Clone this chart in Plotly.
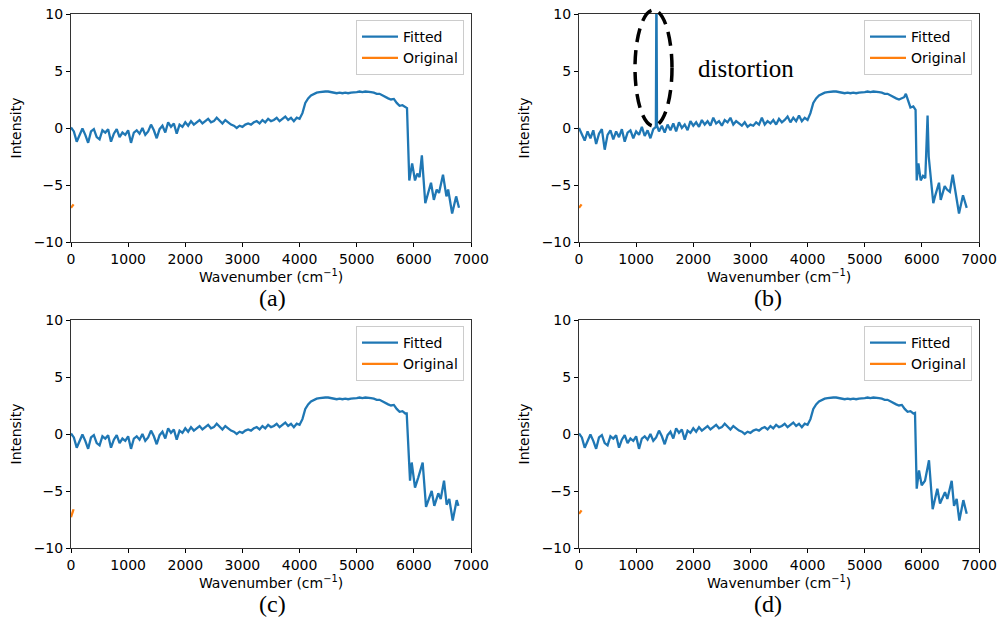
import plotly.graph_objects as go

# ---------------- data ----------------
# shared low/plateau region for panels (a), (c), (d)
base_x = [0, 50, 100, 150, 200, 250, 300, 350, 400, 450, 500, 550, 600, 650, 700, 750, 800, 850, 900, 950,
          1000, 1050, 1100, 1150, 1200, 1250, 1300, 1350, 1400, 1450, 1500, 1550, 1600, 1650, 1700, 1750, 1800, 1850, 1900, 1950,
          2000, 2050, 2100, 2150, 2200, 2250, 2300, 2350, 2400, 2450, 2500, 2550, 2600, 2650, 2700, 2750, 2800, 2850, 2900, 2950,
          3000, 3050, 3100, 3150, 3200, 3250, 3300, 3350, 3400, 3450, 3500, 3550, 3600, 3650, 3700, 3750, 3800, 3850, 3900, 3950,
          4000, 4050, 4100, 4150, 4200, 4250, 4300, 4350, 4400, 4450, 4500, 4550, 4600, 4650, 4700, 4750, 4800, 4850, 4900, 4950,
          5000, 5050, 5100, 5150, 5200, 5250, 5300, 5350, 5400, 5450, 5500, 5550, 5600, 5650, 5700, 5750, 5800, 5850]
base_y = [0.05, -0.3, -1.2, -0.6, -0.05, -0.6, -1.3, -0.3, -0.1, -0.8, -1.0, -0.2, -0.4, -0.1, -1.2, -0.5, -0.1, -0.8, -0.4, -0.6,
          -0.2, -1.3, -0.4, -0.2, -0.5, 0.0, -0.6, -0.3, 0.3, -0.2, -0.9, -0.1, 0.2, -0.4, 0.5, 0.1, 0.4, -0.5, 0.3, 0.1,
          0.5, 0.2, 0.6, 0.3, 0.5, 0.7, 0.4, 0.6, 0.8, 0.5, 0.6, 0.9, 0.6, 0.4, 0.7, 0.5, 0.3, 0.2, 0.0, 0.2,
          0.1, 0.3, 0.4, 0.3, 0.5, 0.6, 0.4, 0.7, 0.5, 0.8, 0.6, 0.7, 0.9, 0.6, 0.8, 1.0, 0.7, 0.9, 0.6, 0.9,
          0.8, 1.3, 2.2, 2.6, 2.85, 3.0, 3.1, 3.15, 3.2, 3.2, 3.2, 3.15, 3.1, 3.05, 3.1, 3.05, 3.1, 3.05, 3.1, 3.1,
          3.15, 3.2, 3.15, 3.2, 3.2, 3.15, 3.1, 3.0, 3.0, 2.85, 2.75, 2.6, 2.5, 2.55, 2.2, 1.95, 2.0, 1.8]

tail_a_x = [5880, 5920, 5970, 6020, 6060, 6100, 6140, 6200, 6250, 6300, 6350, 6400, 6440, 6510, 6570, 6600, 6670, 6740, 6790]
tail_a_y = [1.75, -4.6, -3.1, -4.6, -4.0, -4.3, -2.4, -6.6, -5.8, -4.8, -6.3, -5.4, -5.7, -4.1, -6.0, -5.4, -7.5, -6.0, -7.0]

tail_c_x = [5875, 5933, 5962, 6020, 6078, 6154, 6213, 6312, 6358, 6428, 6470, 6528, 6574, 6620, 6680, 6750, 6780]
tail_c_y = [1.8, -4.1, -2.5, -4.7, -3.8, -2.5, -6.4, -5.0, -6.3, -5.2, -5.7, -4.1, -6.2, -5.7, -7.6, -5.8, -6.3]

tail_d_x = [5880, 5910, 5950, 5997, 6055, 6125, 6189, 6271, 6318, 6405, 6446, 6522, 6563, 6609, 6656, 6726, 6785]
tail_d_y = [1.85, -4.8, -3.2, -4.5, -4.1, -2.3, -6.6, -4.8, -6.1, -5.1, -5.7, -4.1, -6.3, -5.7, -7.6, -5.8, -7.0]

# panel (b): distorted fit
fitted_b_x = [0, 50, 100, 150, 200, 250, 300, 350, 400, 450, 500, 550, 600, 650, 700, 750, 800, 850, 900, 950,
              1000, 1050, 1100, 1150, 1200, 1250, 1300, 1345, 1355, 1365, 1400, 1450, 1500, 1550, 1600, 1650, 1700, 1750, 1800, 1850, 1900, 1950,
              2000, 2050, 2100, 2150, 2200, 2250, 2300, 2350, 2400, 2450, 2500, 2550, 2600, 2650, 2700, 2750, 2800, 2850, 2900, 2950,
              3000, 3050, 3100, 3150, 3200, 3250, 3300, 3350, 3400, 3450, 3500, 3550, 3600, 3650, 3700, 3750, 3800, 3850, 3900, 3950,
              4000, 4050, 4100, 4150, 4200, 4250, 4300, 4350, 4400, 4450, 4500, 4550, 4600, 4650, 4700, 4750, 4800, 4850, 4900, 4950,
              5000, 5050, 5100, 5150, 5200, 5250, 5300, 5350, 5400, 5450, 5500, 5550, 5600, 5650, 5690, 5720, 5760, 5800, 5850, 5890,
              5910, 5940, 5980, 6020, 6060, 6100, 6120, 6200, 6230, 6300, 6330, 6400, 6440, 6490, 6540, 6600, 6650, 6720, 6785]
fitted_b_y = [0.0, -0.6, -1.1, -0.3, -0.9, -0.2, -1.4, -0.5, -0.1, -1.9, -0.6, -0.2, -1.0, -0.3, -0.8, -0.1, -1.2, -0.4, -0.2, -0.9,
              -0.3, -0.6, 0.1, -0.7, -0.2, -0.9, -0.1, 0.1, 13.0, 0.2, -0.3, 0.2, -0.4, 0.3, -0.2, 0.4, -0.3, 0.5, 0.0, 0.3, -0.2, 0.6,
              0.2, 0.5, 0.1, 0.7, 0.3, 0.6, 0.2, 0.9, 0.4, 0.6, 0.2, 0.7, 0.5, 0.9, 0.3, 0.6, 0.4, 0.2, 0.5, 0.1,
              0.3, 0.2, 0.5, 0.3, 0.9, 0.3, 0.6, 0.4, 0.7, 0.3, 0.8, 0.5, 0.7, 1.0, 0.5, 0.9, 0.6, 1.1, 0.6, 0.9,
              0.7, 1.3, 2.2, 2.6, 2.85, 3.0, 3.1, 3.15, 3.2, 3.2, 3.2, 3.15, 3.1, 3.05, 3.1, 3.05, 3.1, 3.05, 3.1, 3.1,
              3.15, 3.2, 3.15, 3.2, 3.2, 3.15, 3.1, 3.0, 3.0, 2.85, 2.75, 2.6, 2.5, 2.6, 2.7, 3.0, 2.3, 1.8, 1.9, 1.6,
              -4.6, -3.1, -4.6, -4.2, -4.4, 1.1, -2.5, -6.6, -6.0, -4.8, -6.3, -5.1, -5.4, -5.6, -4.1, -6.0, -7.5, -5.9, -7.0]

original_x = [0, 15, 30, 45]
original_a_y = [-7.0, -6.9, -6.8, -6.7]
original_b_y = [-7.0, -6.9, -6.8, -6.7]
original_c_y = [-7.3, -7.0, -6.8, -6.6]
original_d_y = [-7.0, -6.9, -6.8, -6.7]

x_ticks = [0, 1000, 2000, 3000, 4000, 5000, 6000, 7000]
y_ticks = [-10, -5, 0, 5, 10]
captions = ["(a)", "(b)", "(c)", "(d)"]

fitted_x = [base_x + tail_a_x, fitted_b_x, base_x + tail_c_x, base_x + tail_d_x]
fitted_y = [base_y + tail_a_y, fitted_b_y, base_y + tail_c_y, base_y + tail_d_y]
original_y = [original_a_y, original_b_y, original_c_y, original_d_y]

# ---------------- layout ----------------
W, H = 1000, 617
BLUE = "#1f77b4"
ORANGE = "#ff7f0e"
FONT = "DejaVu Sans"
FS = 14

# pixel boxes of the four axes: (left, right, top, bottom)
boxes = [(71, 471, 14, 242), (579, 979, 14, 242), (71, 471, 320, 548), (579, 979, 320, 548)]

fig = go.Figure()
legend_names = ["legend", "legend2", "legend3", "legend4"]
for i in range(4):
    ax = "" if i == 0 else str(i + 1)
    fig.add_trace(go.Scatter(x=fitted_x[i], y=fitted_y[i], mode="lines", name="Fitted",
                             line=dict(color=BLUE, width=2.3), xaxis="x" + ax, yaxis="y" + ax,
                             legend=legend_names[i]))
    fig.add_trace(go.Scatter(x=original_x, y=original_y[i], mode="lines", name="Original",
                             line=dict(color=ORANGE, width=2.3), xaxis="x" + ax, yaxis="y" + ax,
                             legend=legend_names[i]))

layout = dict(width=W, height=H, margin=dict(l=0, r=0, t=0, b=0),
              paper_bgcolor="white", plot_bgcolor="white",
              font=dict(family=FONT, size=FS, color="black"), showlegend=True)

for i, (l, r, t, b) in enumerate(boxes):
    ax = "" if i == 0 else str(i + 1)
    xd = [l / W, r / W]
    yd = [1 - b / H, 1 - t / H]
    layout["xaxis" + ax] = dict(domain=xd, range=[0, 7000], tickvals=x_ticks, ticks="outside", ticklen=4,
                                tickcolor="black", showline=True, linecolor="#333", linewidth=1, mirror=True,
                                showgrid=False, zeroline=False, automargin=False, anchor="y" + ax,
                                tickfont=dict(family=FONT, size=FS),
                                title=dict(text="Wavenumber (cm<sup>\u22121</sup>)", standoff=4,
                                           font=dict(family=FONT, size=FS)))
    layout["yaxis" + ax] = dict(domain=yd, range=[-10, 10], tickvals=y_ticks, ticks="outside", ticklen=4,
                                tickcolor="black", showline=True, linecolor="#333", linewidth=1, mirror=True,
                                showgrid=False, zeroline=False, automargin=False, anchor="x" + ax,
                                tickfont=dict(family=FONT, size=FS),
                                title=dict(text="Intensity", standoff=8, font=dict(family=FONT, size=FS)))
    layout[legend_names[i]] = dict(x=(r - 7) / W, y=1 - (t + 6) / H, xanchor="right", yanchor="top",
                                   bgcolor="rgba(255,255,255,0.8)", bordercolor="#cccccc", borderwidth=1,
                                   font=dict(family=FONT, size=FS), tracegroupgap=0, itemwidth=36)

fig.update_layout(**layout)

# captions
cap_pos = [(272, 298), (768, 298), (272, 604), (768, 604)]
for c, (cx, cy) in zip(captions, cap_pos):
    fig.add_annotation(text=c, x=cx / W, y=1 - cy / H, xref="paper", yref="paper", showarrow=False,
                       xanchor="center", yanchor="middle",
                       font=dict(family="Liberation Serif", size=24, color="black"))

# distortion annotation
fig.add_shape(type="circle", xref="paper", yref="paper", x0=635 / W, x1=672 / W, y0=1 - 126 / H, y1=1 - 10 / H,
              line=dict(color="black", width=3.5, dash="14px,8px"))
fig.add_annotation(text="distortion", x=746 / W, y=1 - 68 / H, xref="paper", yref="paper", showarrow=False,
                   xanchor="center", yanchor="middle",
                   font=dict(family="Liberation Serif", size=25, color="black"))

fig.write_html("out.html", config={"displayModeBar": False},
               post_script="document.body.style.margin='0';document.body.style.overflow='hidden';")
